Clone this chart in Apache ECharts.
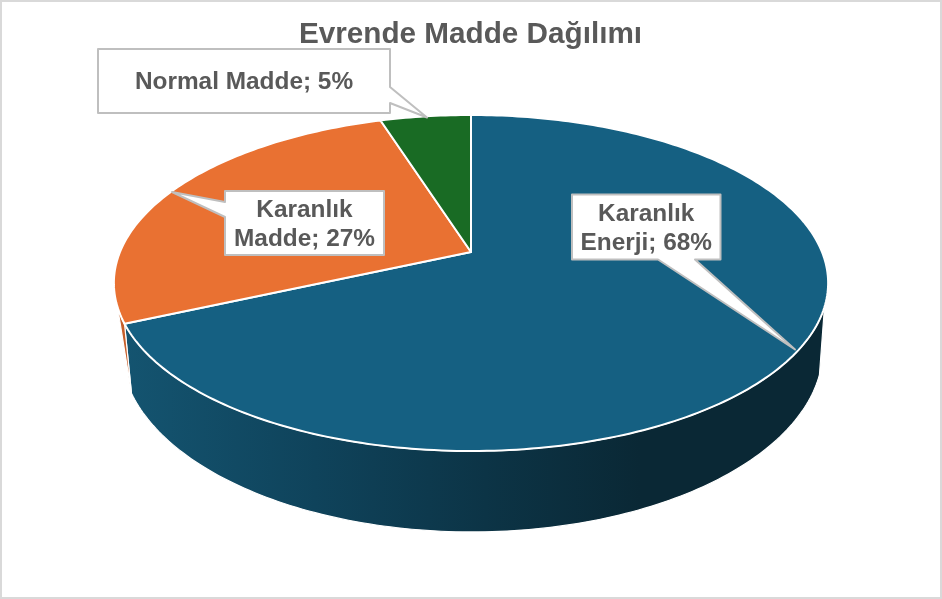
<!DOCTYPE html>
<html><head><meta charset="utf-8">
<style>html,body{margin:0;padding:0;background:#fff}#c{width:942px;height:599px}</style>
<script src="https://cdn.jsdelivr.net/npm/echarts@6/dist/echarts.min.js"></script>
</head><body><div id="c"></div>
<script>
const categories = ['Karanlık Enerji', 'Karanlık Madde', 'Normal Madde'];
const values = [68.3, 26.8, 4.9];
const sliceColors = ['#156082', '#E97132', '#196B24'];
const wallColors = ['#156082', '#C65F2A', '#12501B'];
const titleText = 'Evrende Madde Dağılımı';

// perspective projection of the pie disc
const TILT = 0.1845;
const topDisc = { cx: 471, k: 351, b: 252, c: -115.8 };
const botDisc = { cx: 472, k: 345, b: 315, c: -118.8 };
const WALL_FROM = 108.6, WALL_TO = 251.4;
function project(d, deg) {
  const t = deg * Math.PI / 180, u = Math.sin(t), v = Math.cos(t), w = 1 + TILT * v;
  return [d.cx + d.k * u / w, (d.b + d.c * v) / w];
}
function arc(d, a, b) {
  const pts = [], n = Math.max(2, Math.ceil(Math.abs(b - a)));
  for (let i = 0; i <= n; i++) pts.push(project(d, a + (b - a) * i / n));
  return pts;
}
const total = values.reduce((s, x) => s + x, 0);
function bounds(i) {
  let s = 0;
  for (let j = 0; j < i; j++) s += values[j];
  return [s / total * 360, (s + values[i]) / total * 360];
}
const seriesData = values.map((v, i) => ({ name: categories[i], value: v }));

// callouts: box [x0,y0,x1,y1], wedge base and tip
const callouts = [
  { lines: ['Karanlık', 'Enerji'], box: [572, 194.5, 720.5, 259.5], side: 'bottom', base: [658, 695], tip: [795, 349.5] },
  { lines: ['Karanlık', 'Madde'], box: [225, 191, 384, 255], side: 'left', base: [202, 217], tip: [172, 192] },
  { lines: ['Normal Madde'], box: [98, 49, 390, 113], side: 'right', base: [87, 103], tip: [427, 117.5] }
];
function calloutPoints(c) {
  const [x0, y0, x1, y1] = c.box, [p, q] = c.base;
  if (c.side === 'bottom') return [[x0,y0],[x1,y0],[x1,y1],[q,y1],c.tip,[p,y1],[x0,y1]];
  if (c.side === 'left') return [[x0,y0],[x1,y0],[x1,y1],[x0,y1],[x0,q],c.tip,[x0,p]];
  return [[x0,y0],[x1,y0],[x1,p],c.tip,[x1,q],[x1,y1],[x0,y1]];
}

const wallGradient = () => new echarts.graphic.LinearGradient(125, 0, 640, 0, [
  { offset: 0, color: '#145470' }, { offset: 0.37, color: '#0F435B' },
  { offset: 0.7, color: '#0C3446' }, { offset: 1, color: '#0A2835' }], true);

function renderWall(params, api) {
  const i = params.dataIndex, [s, e] = bounds(i);
  const a = Math.max(s, WALL_FROM), b = Math.min(e, WALL_TO);
  if (a >= b) return;
  let pts;
  if (i === 0) pts = arc(topDisc, a, b).concat(arc(botDisc, a, b).reverse());
  else pts = arc(topDisc, a, b).concat([project(botDisc, a)]);
  return { type: 'polygon', shape: { points: pts },
    style: { fill: i === 0 ? wallGradient() : wallColors[i], stroke: '#fff', lineWidth: 1.2, lineJoin: 'round' } };
}
function renderTop(params, api) {
  const i = params.dataIndex, [s, e] = bounds(i);
  const pts = [[topDisc.cx, topDisc.b]].concat(arc(topDisc, s, e));
  return { type: 'polygon', shape: { points: pts },
    style: { fill: sliceColors[i], stroke: '#fff', lineWidth: 2, lineJoin: 'round' } };
}
function renderLabel(params, api) {
  const i = params.dataIndex, c = callouts[i], pct = Math.round(api.value(0) / total * 100) + '%';
  const n = c.lines.length, [x0, y0, x1, y1] = c.box;
  const text = c.lines.slice(0, -1).concat([c.lines[n - 1] + '; ' + pct]).join('\n');
  return { type: 'group', children: [
    { type: 'polygon', shape: { points: calloutPoints(c) },
      style: { fill: '#fff', stroke: '#BFBFBF', lineWidth: 2, lineJoin: 'round' } },
    { type: 'text', style: { text, x: (x0 + x1) / 2, y: (y0 + y1) / 2 + 1.5, align: 'center', verticalAlign: 'middle',
        fill: '#595959', font: 'bold 24.4px "Liberation Sans", Arial, sans-serif', lineHeight: 29 } }
  ] };
}
const chart = echarts.init(document.getElementById('c'), null, { renderer: 'canvas' });
chart.setOption({
  animation: false,
  backgroundColor: '#fff',
  title: { text: titleText, left: 465.5, top: 15, textAlign: 'center', z: 1,
    textStyle: { color: '#595959', fontFamily: '"Liberation Sans", Arial, sans-serif', fontWeight: 'bold', fontSize: 29.7 } },
  graphic: [{ type: 'rect', z: 0, shape: { x: 1, y: 1, width: 940, height: 597 },
    style: { fill: 'none', stroke: '#D9D9D9', lineWidth: 2 } }],
  series: [
    { type: 'custom', coordinateSystem: 'none', z: 2, renderItem: renderWall, data: seriesData, encode: { value: 0 } },
    { type: 'custom', coordinateSystem: 'none', z: 3, renderItem: renderTop, data: seriesData, encode: { value: 0 } },
    { type: 'custom', coordinateSystem: 'none', z: 4, renderItem: renderLabel, data: seriesData, encode: { value: 0 } }
  ]
});
</script></body></html>
